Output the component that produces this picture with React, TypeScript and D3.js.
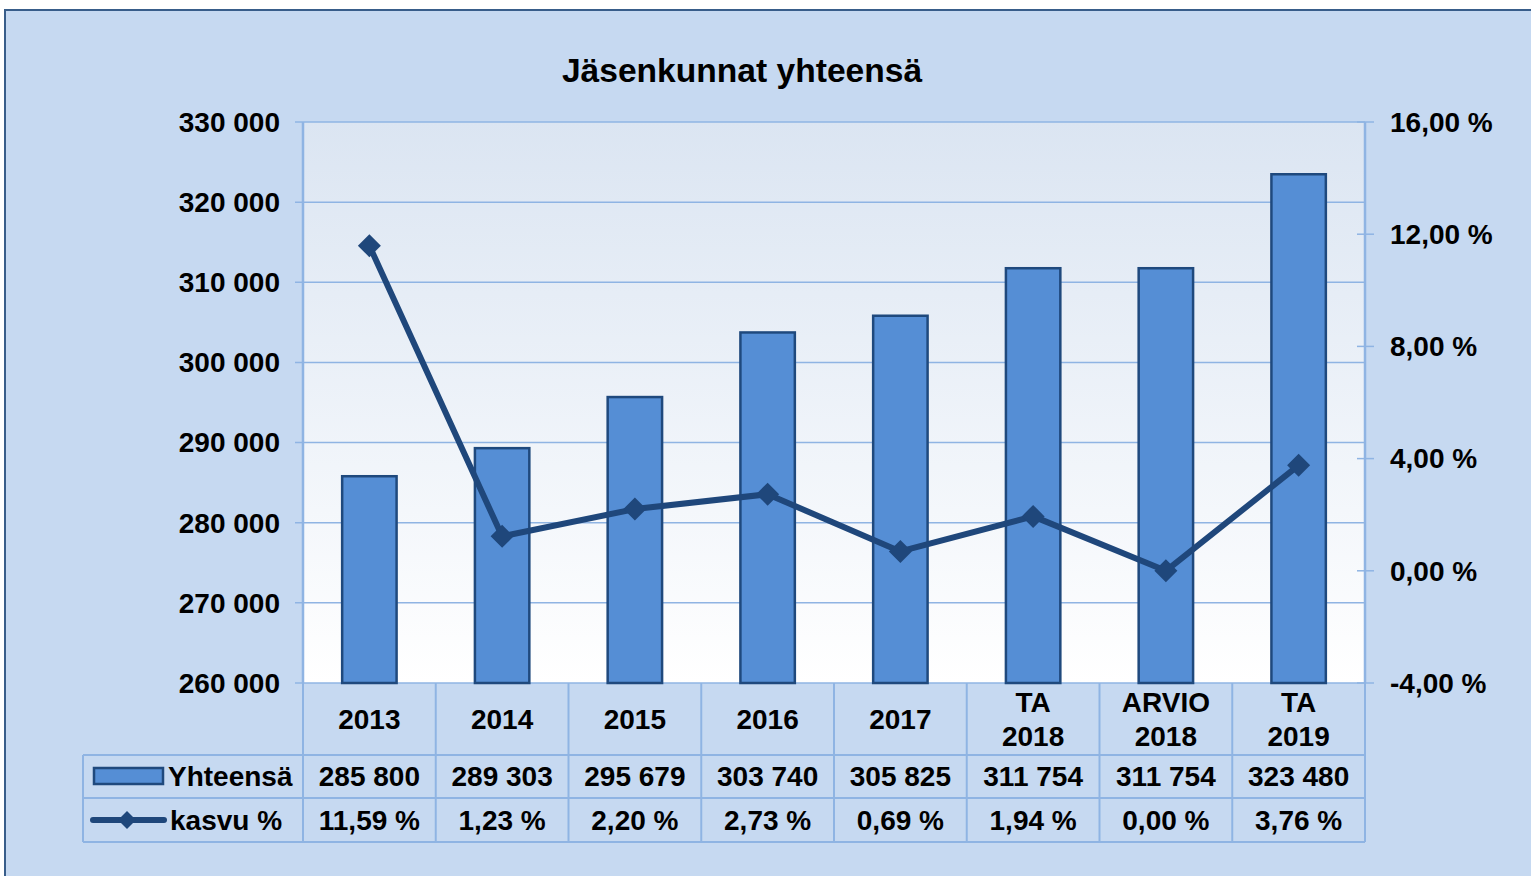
import * as d3 from 'd3';

const categories = [['2013'], ['2014'], ['2015'], ['2016'], ['2017'], ['TA', '2018'], ['ARVIO', '2018'], ['TA', '2019']];
const totals = [285800, 289303, 295679, 303740, 305825, 311754, 311754, 323480];
const growth = [11.59, 1.23, 2.2, 2.73, 0.69, 1.94, 0.0, 3.76];
const leftTicks = [260000, 270000, 280000, 290000, 300000, 310000, 320000, 330000];
const rightTicks = [-4, 0, 4, 8, 12, 16];

const fi = d3.formatLocale({ decimal: ',', thousands: '\u00a0', grouping: [3], currency: ['', ' €'], minus: '-' });
const fmtInt = fi.format(',d');
const fmtPct = (v: number) => fi.format(',.2f')(v) + '\u00a0%';

const W = 1531;
const H = 876;
const plot = { left: 303, right: 1365, top: 122, bottom: 683 };
const rowY = [683, 755, 798, 842];
const tableLeft = 83;

const font = '"Liberation Sans", Arial, sans-serif';
const gridColor = '#8fb4e3';
const lineColor = '#1f477b';

const App = () => {
  const x = d3
    .scaleBand<number>()
    .domain(d3.range(categories.length))
    .range([plot.left, plot.right])
    .paddingInner(0.59)
    .paddingOuter(0.295);
  const step = x.step();
  const cx = (i: number) => (x(i) as number) + x.bandwidth() / 2;
  const colLeft = (i: number) => plot.left + i * step;

  const y = d3.scaleLinear().domain([260000, 330000]).range([plot.bottom, plot.top]);
  const y2 = d3.scaleLinear().domain([-4, 16]).range([plot.bottom, plot.top]);

  const line = d3
    .line<number>()
    .x((_, i) => cx(i))
    .y((d) => y2(d));

  const diamond = (px: number, py: number, r: number) =>
    `M${px},${py - r}L${px + r},${py}L${px},${py + r}L${px - r},${py}Z`;

  const textStyle = { fontFamily: font, fontWeight: 700, fontSize: 28, fill: '#000' } as const;

  return (
    <svg width={W} height={H} style={{ position: 'absolute', left: 0, top: 0, display: 'block' }}>
      <defs>
        <linearGradient id="plotBg" x1="0" y1="0" x2="0" y2="1">
          <stop offset="0" stopColor="#dbe5f2" />
          <stop offset="1" stopColor="#ffffff" />
        </linearGradient>
      </defs>
      <rect x={0} y={0} width={W} height={H} fill="#ffffff" />
      <rect x={5} y={10} width={W + 10} height={H + 10} fill="#c6d9f1" stroke="#385d8a" strokeWidth={2} />

      <text x={742} y={82} textAnchor="middle" style={{ ...textStyle, fontSize: 33.6 }}>
        Jäsenkunnat yhteensä
      </text>

      {/* plot area */}
      <rect x={plot.left} y={plot.top} width={plot.right - plot.left} height={plot.bottom - plot.top} fill="url(#plotBg)" />

      {/* grid lines */}
      {leftTicks.map((t) => (
        <line key={'g' + t} x1={plot.left - 8} x2={plot.right} y1={y(t)} y2={y(t)} stroke={gridColor} strokeWidth={1.5} />
      ))}
      {rightTicks.map((t) => (
        <line key={'r' + t} x1={plot.right - 8} x2={plot.right + 9} y1={y2(t)} y2={y2(t)} stroke={gridColor} strokeWidth={1.5} />
      ))}
      <line x1={plot.left} x2={plot.left} y1={plot.top} y2={plot.bottom} stroke={gridColor} strokeWidth={2.5} />
      <line x1={plot.right} x2={plot.right} y1={plot.top} y2={plot.bottom} stroke={gridColor} strokeWidth={2.5} />

      {/* bars */}
      {totals.map((v, i) => (
        <rect
          key={'b' + i}
          x={x(i)}
          y={y(v)}
          width={x.bandwidth()}
          height={plot.bottom - y(v)}
          fill="#558ed5"
          stroke="#1f497d"
          strokeWidth={2.5}
        />
      ))}

      {/* growth line */}
      <path d={line(growth) || ''} fill="none" stroke={lineColor} strokeWidth={6} strokeLinejoin="round" />
      {growth.map((v, i) => (
        <path key={'m' + i} d={diamond(cx(i), y2(v), 11.5)} fill={lineColor} />
      ))}

      {/* axis labels */}
      {leftTicks.map((t) => (
        <text key={'lt' + t} x={280} y={y(t)} dy="0.35em" textAnchor="end" style={textStyle}>
          {fmtInt(t)}
        </text>
      ))}
      {rightTicks.map((t) => (
        <text key={'rt' + t} x={1390} y={y2(t)} dy="0.35em" textAnchor="start" style={textStyle}>
          {fmtPct(t)}
        </text>
      ))}

      {/* data table grid */}
      {d3.range(categories.length + 1).map((i) => (
        <line key={'v' + i} x1={colLeft(i)} x2={colLeft(i)} y1={rowY[0]} y2={rowY[3]} stroke={gridColor} strokeWidth={2} />
      ))}
      <line x1={tableLeft} x2={tableLeft} y1={rowY[1]} y2={rowY[3]} stroke={gridColor} strokeWidth={2} />
      {[rowY[1], rowY[2], rowY[3]].map((ry) => (
        <line key={'h' + ry} x1={tableLeft} x2={plot.right} y1={ry} y2={ry} stroke={gridColor} strokeWidth={2} />
      ))}

      {/* category header */}
      {categories.map((lines, i) => {
        const mid = (rowY[0] + rowY[1]) / 2;
        const gap = 34.5;
        return (
          <text key={'c' + i} x={cx(i)} textAnchor="middle" style={textStyle}>
            {lines.map((l, k) => (
              <tspan key={k} x={cx(i)} y={mid + (k - (lines.length - 1) / 2) * gap} dy="0.35em">
                {l}
              </tspan>
            ))}
          </text>
        );
      })}

      {/* table values */}
      {totals.map((v, i) => (
        <text key={'tv' + i} x={cx(i)} y={(rowY[1] + rowY[2]) / 2} dy="0.35em" textAnchor="middle" style={textStyle}>
          {fmtInt(v)}
        </text>
      ))}
      {growth.map((v, i) => (
        <text key={'gv' + i} x={cx(i)} y={(rowY[2] + rowY[3]) / 2} dy="0.35em" textAnchor="middle" style={textStyle}>
          {fmtPct(v)}
        </text>
      ))}

      {/* legend keys */}
      <rect x={94} y={768} width={69} height={16} fill="#558ed5" stroke="#1f497d" strokeWidth={2.5} />
      <text x={168} y={(rowY[1] + rowY[2]) / 2} dy="0.35em" style={textStyle}>
        Yhteensä
      </text>
      <line x1={93} x2={164} y1={820} y2={820} stroke={lineColor} strokeWidth={6} strokeLinecap="round" />
      <path d={diamond(127, 820, 9)} fill={lineColor} />
      <text x={170} y={(rowY[2] + rowY[3]) / 2} dy="0.35em" style={textStyle}>
        kasvu %
      </text>
    </svg>
  );
};

export default App;
